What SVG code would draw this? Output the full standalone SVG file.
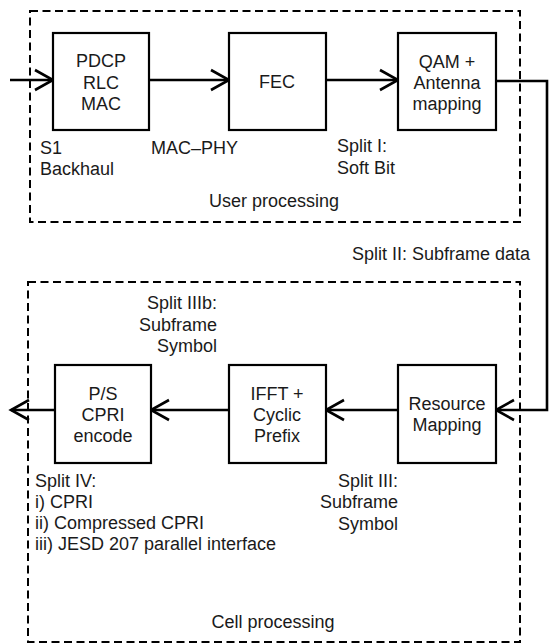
<svg xmlns="http://www.w3.org/2000/svg" width="551" height="644" viewBox="0 0 551 644">
<defs>
<marker id="ah" markerUnits="userSpaceOnUse" markerWidth="24" markerHeight="26" refX="20" refY="12" orient="auto" viewBox="0 0 24 26">
<path d="M2,2 L20,12 L2,22" fill="none" stroke="#000" stroke-width="2.6"/>
</marker>
</defs>
<style>
text{font-family:"Liberation Sans",Arial,sans-serif;font-size:18px;fill:#1a1a1a}
.c{text-anchor:middle}
.r{text-anchor:end}
.box{fill:#fff;stroke:#000;stroke-width:2.2}
.dash{fill:none;stroke:#000;stroke-width:2;stroke-dasharray:8 4.5}
.ln{fill:none;stroke:#000;stroke-width:2.6}
</style>
<rect width="551" height="644" fill="#fff"/>
<g id="user-processing">
<rect class="dash" x="30" y="11" width="490" height="211"/>
<text class="c" x="274" y="207">User processing</text>
</g>
<g id="cell-processing">
<rect class="dash" x="28" y="282" width="492" height="360"/>
<text class="c" x="273" y="628">Cell processing</text>
</g>
<g id="connectors">
<line class="ln" x1="10" y1="80" x2="53" y2="80" marker-end="url(#ah)"/>
<line class="ln" x1="149" y1="80" x2="229" y2="80" marker-end="url(#ah)"/>
<line class="ln" x1="326" y1="80" x2="398" y2="80" marker-end="url(#ah)"/>
<polyline class="ln" points="496,81 547,81 547,410 496,410" marker-end="url(#ah)"/>
<line class="ln" x1="398" y1="410" x2="326" y2="410" marker-end="url(#ah)"/>
<line class="ln" x1="229" y1="410" x2="151" y2="410" marker-end="url(#ah)"/>
<line class="ln" x1="55" y1="410" x2="11" y2="410" marker-end="url(#ah)"/>
</g>
<g id="pdcp">
<rect class="box" x="53" y="33" width="96" height="97"/>
<text class="c" x="101" y="67">PDCP</text>
<text class="c" x="101" y="89">RLC</text>
<text class="c" x="101" y="110">MAC</text>
</g>
<g id="fec">
<rect class="box" x="229" y="33" width="97" height="97"/>
<text class="c" x="277" y="88">FEC</text>
</g>
<g id="qam">
<rect class="box" x="398" y="33" width="98" height="97"/>
<text class="c" x="447" y="68">QAM +</text>
<text class="c" x="447" y="89">Antenna</text>
<text class="c" x="447" y="110">mapping</text>
</g>
<g id="ps">
<rect class="box" x="55" y="365" width="96" height="98"/>
<text class="c" x="103" y="400">P/S</text>
<text class="c" x="103" y="421">CPRI</text>
<text class="c" x="103" y="442">encode</text>
</g>
<g id="ifft">
<rect class="box" x="229" y="365" width="97" height="98"/>
<text class="c" x="277" y="400">IFFT +</text>
<text class="c" x="277" y="421">Cyclic</text>
<text class="c" x="277" y="442">Prefix</text>
</g>
<g id="resource-mapping">
<rect class="box" x="398" y="365" width="98" height="98"/>
<text class="c" x="447" y="410">Resource</text>
<text class="c" x="447" y="431">Mapping</text>
</g>
<g id="labels">
<text x="40" y="154">S1</text>
<text x="40" y="175">Backhaul</text>
<text x="151" y="154">MAC–PHY</text>
<text x="337" y="152">Split I:</text>
<text x="337" y="174">Soft Bit</text>
<text x="352" y="260">Split II: Subframe data</text>
<text class="r" x="217" y="309">Split IIIb:</text>
<text class="r" x="217" y="331">Subframe</text>
<text class="r" x="217" y="352">Symbol</text>
<text class="r" x="398" y="487">Split III:</text>
<text class="r" x="398" y="508">Subframe</text>
<text class="r" x="398" y="530">Symbol</text>
<text x="35" y="487">Split IV:</text>
<text x="35" y="508">i) CPRI</text>
<text x="35" y="529">ii) Compressed CPRI</text>
<text x="35" y="550">iii) JESD 207 parallel interface</text>
</g>
</svg>
